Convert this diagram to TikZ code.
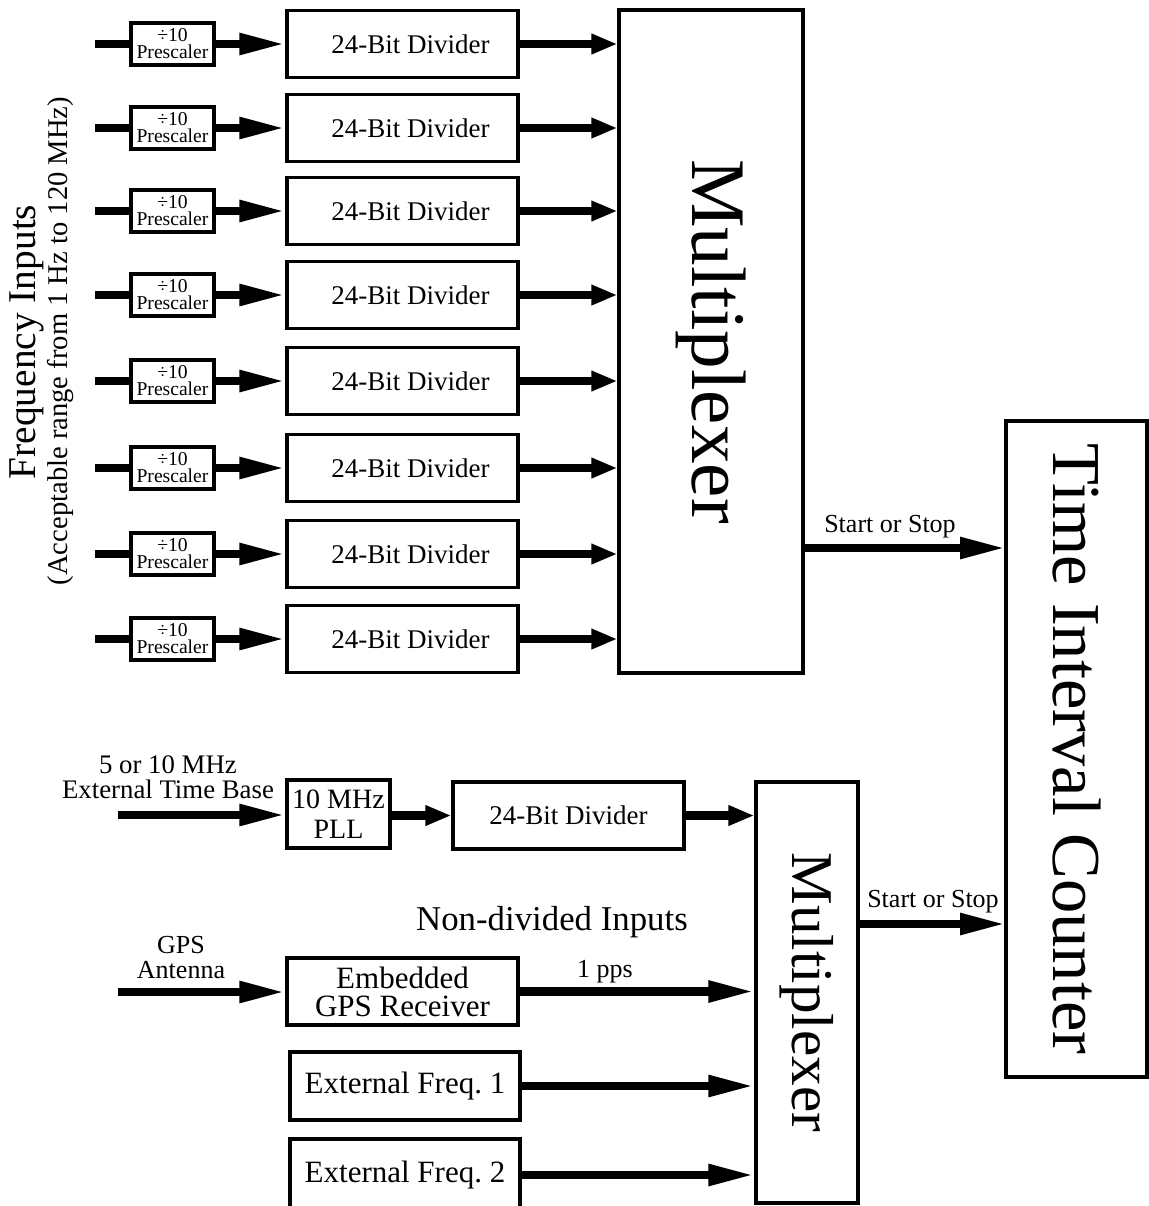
\documentclass[tikz,border=0pt]{standalone}
\usepackage{fontspec}
\setmainfont{Liberation Serif}
\usetikzlibrary{arrows.meta,positioning,calc}

\begin{document}
\begin{tikzpicture}[x=0.5pt,y=-0.5pt,
  box/.style={draw,line width=1.6pt,inner sep=0pt,align=center,font=\fontsize{13.5}{15}\selectfont},
  pre/.style={box,minimum width=41.5pt,minimum height=21pt,font=\fontsize{9.8}{8.5}\selectfont},
  divbox/.style={box,minimum width=115.5pt,minimum height=33.5pt},
  wire/.style={line width=4.2pt},
  sig/.style={wire,-{Triangle[length=23pt,width=10pt]}},
  sigs/.style={wire,-{Triangle[length=13pt,width=9.5pt]}},
  lbl/.style={font=\fontsize{13}{12.5}\selectfont,align=center}]
\useasboundingbox (0,0) rectangle (1149,1206);

% big boxes
\node[box,minimum width=92pt,minimum height=331.5pt] (muxA) at (711,341.5) {};
\node[rotate=-90,font=\fontsize{38.6}{40}\selectfont] (muxAtxt) at (muxA) {Multiplexer};
\node[box,minimum width=70.5pt,minimum height=328pt] (tic) at (1076.5,749) {};
\node[rotate=-90,font=\fontsize{34.3}{36}\selectfont] (tictxt) at (tic) {Time Interval Counter};
\node[box,minimum width=51pt,minimum height=210.5pt] (muxB) at (807,992.5) {};
\node[rotate=-90,font=\fontsize{29.6}{31}\selectfont] (muxBtxt) at (muxB) {Multiplexer};

% frequency inputs
\node[rotate=90,font=\fontsize{19.7}{20}\selectfont] (fin) at (27,342) {Frequency Inputs};
\node[rotate=90,font=\fontsize{14.3}{15}\selectfont] (frange) at (61,341) {(Acceptable range from 1 Hz to 120 MHz)};
\foreach \y [count=\i] in {44,128,211,295,381,468,554,639} {
  \node[pre] (pre\i) at (172.5,\y) {÷10\\Prescaler};
  \node[divbox] (div\i) at (402.5,\y) {\hspace*{8pt}24-Bit Divider};
  \coordinate (in\i) at (95,\y);
  \draw[wire] (in\i) -- (pre\i.west);
  \draw[sig] (pre\i.east) -- (div\i.west);
  \draw[sigs] (div\i.east) -- (div\i.east -| muxA.west);
}

% start or stop
\coordinate (ssA) at (1006,548);
\coordinate (ssB) at (1006,924);
\draw[sig] (muxA.east |- ssA) -- (ssA);
\draw[sig] (muxB.east |- ssB) -- (ssB);
\node[lbl] (ssAtxt) at (890,527) {Start or Stop};
\node[lbl] (ssBtxt) at (933,902) {Start or Stop};

% time base
\node[lbl,font=\fontsize{13.4}{12.5}\selectfont] (tbtxt) at (168,777) {5 or 10 MHz\\External Time Base};
\node[box,minimum width=51.5pt,minimum height=34pt,font=\fontsize{14}{15}\selectfont] (pll) at (338.5,814) {10 MHz\\PLL};
\node[divbox] (divB) at (568.5,815.5) {24-Bit Divider};
\coordinate (tbin) at (118,815);
\draw[sig] (tbin) -- (tbin -| pll.west);
\draw[sigs] (pll.east |- divB) -- (divB.west);
\draw[sigs] (divB.east) -- (divB.east -| muxB.west);

% non-divided inputs
\node[font=\fontsize{17.4}{18}\selectfont] (ndtxt) at (552,922) {Non-divided Inputs};
\node[lbl] (anttxt) at (181,958) {GPS\\Antenna};
\node[box,minimum width=115.5pt,minimum height=33.5pt,font=\fontsize{15.5}{14}\selectfont] (gps) at (402.5,991.5) {Embedded\\GPS Receiver};
\node[box,minimum width=115pt,minimum height=34pt,font=\fontsize{15.5}{16}\selectfont] (ext1) at (405,1086) {External Freq.\ 1};
\node[box,minimum width=115pt,minimum height=36pt,font=\fontsize{15.5}{16}\selectfont] (ext2) at (405,1175) {External Freq.\ 2};
\coordinate (gpsin) at (118,992);
\draw[sig] (gpsin) -- (gpsin -| gps.west);
\draw[sig] (gps.east) -- (gps.east -| muxB.west);
\node[lbl] (ppstxt) at (605,972) {1 pps};
\draw[sig] (ext1.east) -- (ext1.east -| muxB.west);
\draw[sig] (ext2.east) -- (ext2.east -| muxB.west);
\end{tikzpicture}
\end{document}
